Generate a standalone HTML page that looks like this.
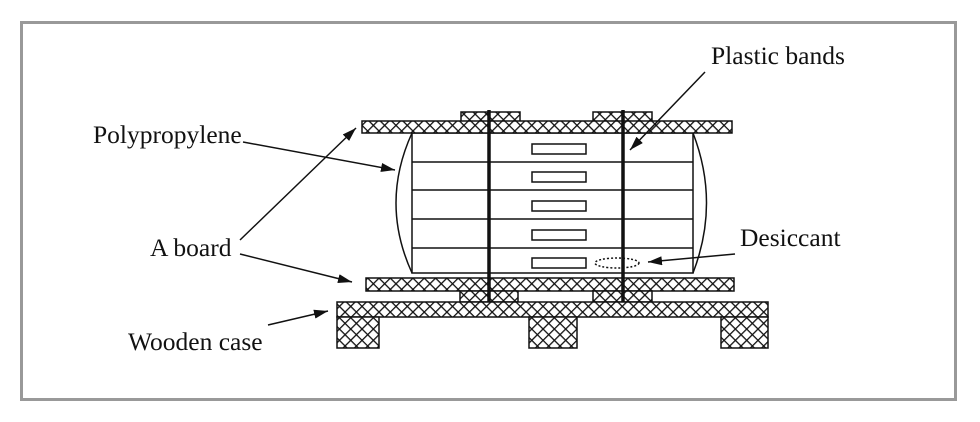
<!DOCTYPE html>
<html><head><meta charset="utf-8"><style>
html,body{margin:0;padding:0;background:#fff;width:980px;height:422px;overflow:hidden}
svg text{font-family:"Liberation Serif","DejaVu Serif",serif;font-size:25.5px;fill:#111}
</style></head><body>
<svg width="980" height="422" viewBox="0 0 980 422" xmlns="http://www.w3.org/2000/svg">
<defs>
<pattern id="h" width="8" height="8" patternUnits="userSpaceOnUse" patternTransform="rotate(45)">
<rect width="8" height="8" fill="#fff"/>
<line x1="0" y1="0" x2="8" y2="0" stroke="#111" stroke-width="2.6"/>
<line x1="0" y1="0" x2="0" y2="8" stroke="#111" stroke-width="2.6"/>
</pattern>
<marker id="a" markerWidth="14" markerHeight="9" refX="14" refY="4.5" orient="auto" markerUnits="userSpaceOnUse">
<path d="M0,0 L14,4.5 L0,9 z" fill="#111"/></marker>
</defs>
<rect x="21.5" y="22.5" width="934" height="377" fill="#fff" stroke="#999" stroke-width="3"/>
<g stroke="#111" stroke-width="1.5">
<rect x="412" y="133" width="281" height="140" fill="#fff"/>
<line x1="412" y1="162" x2="693" y2="162"/>
<line x1="412" y1="190" x2="693" y2="190"/>
<line x1="412" y1="219" x2="693" y2="219"/>
<line x1="412" y1="248" x2="693" y2="248"/>
<path d="M412,133 Q380,203 412,273" fill="none"/>
<path d="M693,133 Q720,203 693,273" fill="none"/>
<rect x="532" y="144" width="54" height="10" fill="#fff"/>
<rect x="532" y="172" width="54" height="10" fill="#fff"/>
<rect x="532" y="201" width="54" height="10" fill="#fff"/>
<rect x="532" y="230" width="54" height="10" fill="#fff"/>
<rect x="532" y="258" width="54" height="10" fill="#fff"/>
<ellipse cx="617" cy="263" rx="22" ry="5" fill="none" stroke-dasharray="2,2"/>
<rect x="461" y="112" width="59" height="10" fill="url(#h)"/>
<rect x="593" y="112" width="59" height="10" fill="url(#h)"/>
<rect x="362" y="121" width="370" height="12" fill="url(#h)"/>
<rect x="366" y="278" width="368" height="13" fill="url(#h)"/>
<rect x="460" y="291" width="58" height="11" fill="url(#h)"/>
<rect x="593" y="291" width="59" height="11" fill="url(#h)"/>
<rect x="337" y="302" width="431" height="15" fill="url(#h)"/>
<rect x="337" y="317" width="42" height="31" fill="url(#h)"/>
<rect x="529" y="317" width="48" height="31" fill="url(#h)"/>
<rect x="721" y="317" width="47" height="31" fill="url(#h)"/>
</g>
<g stroke="#111" stroke-width="3.5">
<line x1="489" y1="110" x2="489" y2="302"/>
<line x1="623" y1="110" x2="623" y2="302"/>
</g>
<g stroke="#111" stroke-width="1.5" fill="none" marker-end="url(#a)">
<line x1="705" y1="72" x2="630" y2="150"/>
<line x1="243" y1="142" x2="395" y2="170"/>
<line x1="240" y1="240" x2="356" y2="128"/>
<line x1="240" y1="254" x2="352" y2="282"/>
<line x1="735" y1="254" x2="648" y2="262"/>
<line x1="268" y1="325" x2="328" y2="311"/>
</g>
<g font-family="Liberation Serif, serif" font-size="25.5">
<text x="711" y="64">Plastic bands</text>
<text x="93" y="143">Polypropylene</text>
<text x="150" y="256">A board</text>
<text x="740" y="246">Desiccant</text>
<text x="128" y="350">Wooden case</text>
</g>
</svg>
</body></html>
